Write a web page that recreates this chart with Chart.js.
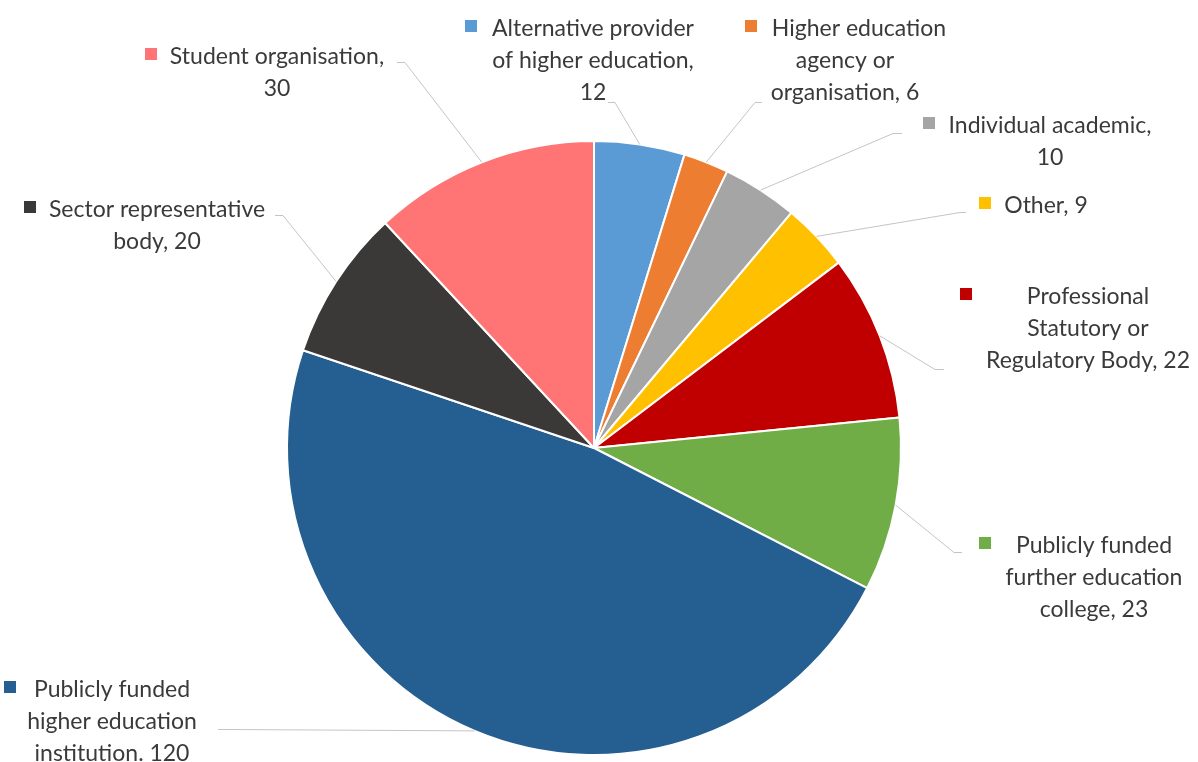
<!DOCTYPE html>
<html>
<head>
<meta charset="utf-8">
<title>Responses by respondent type</title>
<script src="https://cdn.jsdelivr.net/npm/chart.js@4/dist/chart.umd.min.js"></script>
<style>
  html, body { margin: 0; padding: 0; background: #ffffff; }
  canvas { display: block; }
</style>
</head>
<body>
<canvas id="chart" width="1198" height="762"></canvas>
<script>
// Respondent types, clockwise from twelve o'clock
const categories = [
  "Alternative provider of higher education",
  "Higher education agency or organisation",
  "Individual academic",
  "Other",
  "Professional Statutory or Regulatory Body",
  "Publicly funded further education college",
  "Publicly funded higher education institution",
  "Sector representative body",
  "Student organisation"
];

// Number of responses from each type
const responses = [12, 6, 10, 9, 22, 23, 120, 20, 30];

const sliceColours = [
  "#5B9BD5", "#ED7D31", "#A5A5A5", "#FFC000", "#C00000",
  "#70AD47", "#255E91", "#3B3838", "#FF7575"
];

// Wrapped label text; {v} is replaced by the slice value
const labelLines = [
  ["Alternative provider", "of higher education,", "{v}"],
  ["Higher education", "agency or", "organisation, {v}"],
  ["Individual academic,", "{v}"],
  ["Other, {v}"],
  ["Professional", "Statutory or", "Regulatory Body, {v}"],
  ["Publicly funded", "further education", "college, {v}"],
  ["Publicly funded", "higher education", "institution. {v}"],
  ["Sector representative", "body, {v}"],
  ["Student organisation,", "{v}"]
];

// Callout placement: text centre, first baseline, key gap, leader elbow and end
const callouts = [
  { cx: 593,  base: 36,  gap: 15, shift: 0,  elbow: [615, 102], end: [608, 102] },
  { cx: 845,  base: 36,  gap: 15, shift: 14, elbow: [755, 102], end: [762, 102] },
  { cx: 1050, base: 133, gap: 14, shift: 0,  elbow: [893, 133], end: [902, 133] },
  { cx: 1046, base: 213, gap: 13, shift: 0,  elbow: [960, 212], end: [966, 212] },
  { cx: 1088, base: 304, gap: 55, shift: 0,  elbow: [935, 369], end: [944, 369] },
  { cx: 1094, base: 553, gap: 25, shift: 0,  elbow: [954, 552], end: [962, 552] },
  { cx: 112,  base: 697, gap: 18, shift: 0,  elbow: [226, 729], end: [218, 729] },
  { cx: 157,  base: 217, gap: 13, shift: 0,  elbow: [283, 215], end: [275, 215] },
  { cx: 277,  base: 64,  gap: 13, shift: 0,  elbow: [405, 62],  end: [397, 62] }
];

const LABEL_FONT = "23px Lato, 'Open Sans', sans-serif";
const LINE_HEIGHT = 32;
const KEY_SIZE = 12;

const calloutPlugin = {
  id: "callouts",
  afterDatasetsDraw(chart) {
    const ctx = chart.ctx;
    const meta = chart.getDatasetMeta(0);
    ctx.save();
    // leader lines from the middle of each slice's rim
    ctx.strokeStyle = "#c4c4c4";
    ctx.lineWidth = 1;
    meta.data.forEach((arc, i) => {
      const p = arc.getProps(["x", "y", "startAngle", "endAngle", "outerRadius"], true);
      const mid = (p.startAngle + p.endAngle) / 2;
      const sx = p.x + Math.cos(mid) * p.outerRadius;
      const sy = p.y + Math.sin(mid) * p.outerRadius;
      const c = callouts[i];
      ctx.beginPath();
      ctx.moveTo(sx, sy);
      ctx.lineTo(c.elbow[0], c.elbow[1] + 0.5);
      ctx.lineTo(c.end[0], c.end[1] + 0.5);
      ctx.stroke();
    });
    // label text with a colour key before the first line
    ctx.font = LABEL_FONT;
    ctx.textAlign = "center";
    ctx.textBaseline = "alphabetic";
    meta.data.forEach((arc, i) => {
      const c = callouts[i];
      const lines = labelLines[i].map(s => s.replace("{v}", String(responses[i])));
      ctx.fillStyle = "#3a3a3a";
      lines.forEach((t, k) => {
        ctx.fillText(t, c.cx + (k === 0 ? c.shift : 0), c.base + k * LINE_HEIGHT);
      });
      const w0 = ctx.measureText(lines[0]).width;
      const left = c.cx + c.shift - w0 / 2;
      ctx.fillStyle = sliceColours[i];
      ctx.fillRect(Math.round(left - c.gap - KEY_SIZE), c.base - 16, KEY_SIZE, KEY_SIZE);
    });
    ctx.restore();
  }
};

new Chart(document.getElementById("chart"), {
  type: "pie",
  data: {
    labels: categories,
    datasets: [{
      data: responses,
      backgroundColor: sliceColours,
      borderColor: "#ffffff",
      borderWidth: 2
    }]
  },
  options: {
    responsive: false,
    devicePixelRatio: 1,
    animation: false,
    layout: { padding: { top: 140, bottom: 6, left: 0, right: 10 } },
    plugins: {
      legend: { display: false },
      tooltip: { enabled: false }
    }
  },
  plugins: [calloutPlugin]
});
</script>
</body>
</html>
